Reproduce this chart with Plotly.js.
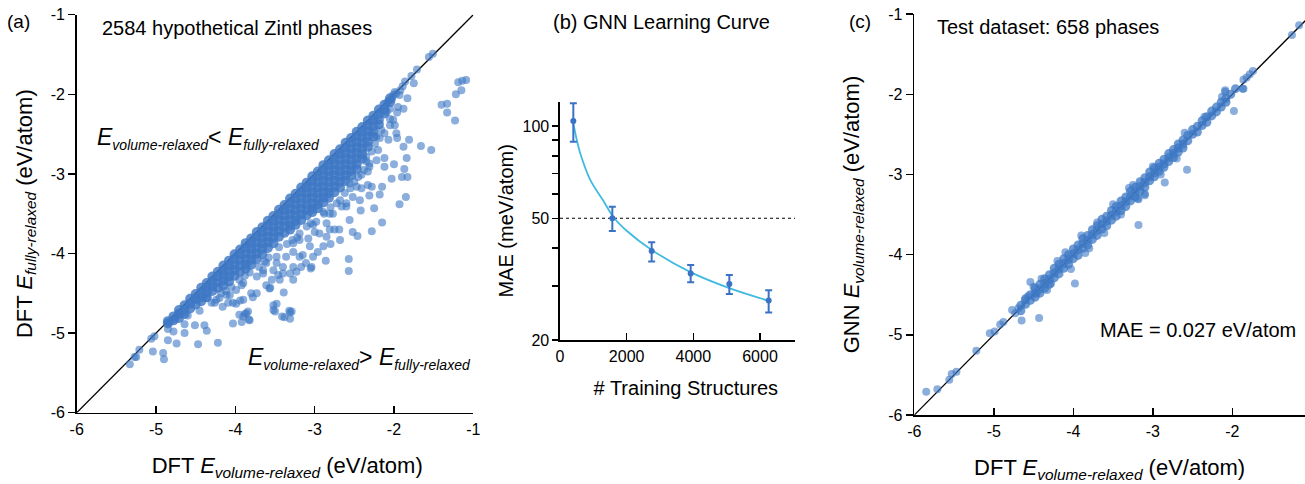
<!DOCTYPE html>
<html><head><meta charset="utf-8">
<script src="https://cdn.plot.ly/plotly-3.0.1.min.js"></script>
<style>html,body{margin:0;padding:0;background:#fff}#chart{width:1305px;height:484px}</style>
</head><body><div id="chart"></div>
<script>
// ---------- Panel (a): DFT E_fully-relaxed vs DFT E_volume-relaxed ----------
// dense band: column x positions and the y values of points in each column
const aBandColX = [-4.85,-4.78,-4.71,-4.64,-4.57,-4.50,-4.43,-4.36,-4.29,-4.22,-4.15,-4.08,-4.01,-3.94,-3.87,-3.80,-3.73,-3.66,-3.59,-3.52,-3.45,-3.38,-3.31,-3.24,-3.17,-3.10,-3.03,-2.96,-2.89,-2.82,-2.75,-2.68,-2.61,-2.54,-2.47,-2.40,-2.33,-2.26,-2.19,-2.12,-2.05];
const aBandColY = [
 [-4.85,-4.88],[-4.79,-4.84],[-4.71,-4.76,-4.81],[-4.65,-4.71,-4.76],[-4.57,-4.63,-4.69],[-4.51,-4.57,-4.64],
 [-4.43,-4.49,-4.55,-4.60],[-4.37,-4.43,-4.49,-4.55],[-4.29,-4.35,-4.41,-4.47],[-4.23,-4.29,-4.36,-4.43],
 [-4.15,-4.21,-4.27,-4.34,-4.40],[-4.09,-4.15,-4.22,-4.29,-4.35],[-4.01,-4.07,-4.14,-4.21,-4.28],[-3.95,-4.01,-4.08,-4.15,-4.23],
 [-3.87,-3.93,-4.00,-4.07,-4.14,-4.19],[-3.81,-3.87,-3.94,-4.01,-4.08,-4.14],[-3.73,-3.79,-3.86,-3.93,-4.00,-4.07],
 [-3.67,-3.73,-3.80,-3.87,-3.94,-4.01],[-3.59,-3.65,-3.72,-3.79,-3.86,-3.93],[-3.53,-3.59,-3.66,-3.73,-3.80,-3.87],
 [-3.45,-3.51,-3.58,-3.65,-3.72,-3.79],[-3.39,-3.45,-3.52,-3.59,-3.66,-3.74],
 [-3.31,-3.37,-3.44,-3.51,-3.58,-3.65,-3.70],[-3.25,-3.31,-3.38,-3.45,-3.52,-3.59,-3.64],
 [-3.17,-3.23,-3.30,-3.37,-3.44,-3.51,-3.58],[-3.11,-3.17,-3.24,-3.31,-3.38,-3.45,-3.52],
 [-3.03,-3.09,-3.16,-3.23,-3.30,-3.37,-3.44,-3.48],[-2.97,-3.03,-3.10,-3.17,-3.24,-3.31,-3.38,-3.43],
 [-2.89,-2.95,-3.02,-3.09,-3.16,-3.23,-3.30,-3.36],[-2.83,-2.89,-2.96,-3.03,-3.10,-3.17,-3.24,-3.30],
 [-2.75,-2.81,-2.88,-2.95,-3.02,-3.09,-3.16,-3.23],[-2.69,-2.75,-2.82,-2.89,-2.96,-3.03,-3.10,-3.17],
 [-2.61,-2.67,-2.74,-2.81,-2.88,-2.95,-3.02,-3.09],[-2.55,-2.61,-2.68,-2.75,-2.82,-2.89,-2.96,-3.02],
 [-2.47,-2.53,-2.60,-2.67,-2.74,-2.81,-2.88,-2.94],[-2.41,-2.47,-2.54,-2.61,-2.68,-2.75,-2.81],
 [-2.33,-2.39,-2.46,-2.53,-2.60,-2.66],[-2.27,-2.33,-2.40,-2.47,-2.53],[-2.19,-2.25,-2.32,-2.38],
 [-2.13,-2.19,-2.24],[-2.05,-2.10]
];
// points just below the dense band [x, y]
const aFringe = [
 [-4.60,-4.78],[-4.45,-4.72],[-4.30,-4.62],[-4.18,-4.50],[-4.05,-4.42],[-3.95,-4.33],[-3.82,-4.24],[-3.70,-4.17],
 [-3.58,-4.05],[-3.45,-3.92],[-3.35,-3.88],[-3.22,-3.80],[-3.10,-3.66],[-2.98,-3.60],[-2.88,-3.50],[-2.72,-3.37],
 [-2.62,-3.24],[-2.50,-3.10],[-2.38,-2.95],[-2.28,-2.72],[-2.18,-2.55],[-4.12,-4.47],[-3.88,-4.28],[-3.63,-4.10],
 [-3.28,-3.83],[-3.05,-3.62],[-2.80,-3.42],[-2.55,-3.18],[-2.35,-2.84],[-2.24,-2.62]
];
// scattered points [x, y]
const aScatter = [
 [-5.33,-5.39],[-5.27,-5.30],[-5.25,-5.30],[-5.21,-5.21],[-5.06,-5.07],[-5.02,-5.04],[-5.04,-5.23],[-4.91,-5.25],[-4.90,-5.33],
 [-4.85,-5.09],[-4.85,-4.95],[-4.78,-4.98],[-4.83,-4.86],[-4.76,-4.83],[-4.72,-4.75],[-4.74,-5.13],[-4.64,-5.00],[-4.64,-4.89],
 [-4.51,-4.90],[-4.47,-5.14],[-4.39,-4.90],[-4.36,-4.97],[-4.22,-5.12],[-4.03,-4.88],[-3.92,-4.86],[-3.95,-4.77],[-3.88,-4.76],
 [-3.83,-4.83],[-3.90,-4.79],[-3.84,-4.73],[-3.52,-4.65],[-3.50,-4.73],[-3.38,-4.80],[-3.31,-4.74],[-3.31,-4.82],[-3.29,-4.73],
 [-3.48,-4.63],[-3.52,-4.71],[-3.32,-4.72],[-3.86,-4.75],[-3.82,-4.84],[-3.99,-4.63],[-4.07,-4.52],[-4.24,-4.58],[-4.26,-4.62],
 [-4.20,-4.56],[-4.16,-4.67],[-4.09,-4.62],[-4.03,-4.62],[-3.94,-4.59],[-3.90,-4.58],[-4.49,-4.58],[-4.36,-4.56],[-4.11,-4.52],
 [-3.99,-4.46],[-3.90,-4.37],[-3.92,-4.40],[-3.73,-4.29],[-3.80,-4.50],[-3.73,-4.50],[-3.78,-4.55],[-3.65,-4.21],[-3.65,-4.25],
 [-3.61,-4.40],[-3.57,-4.44],[-3.54,-4.33],[-3.56,-4.43],[-3.44,-4.33],[-3.39,-4.49],[-3.41,-4.79],[-3.46,-4.27],[-3.40,-4.25],
 [-3.31,-4.25],[-3.27,-4.33],[-3.23,-4.23],[-3.17,-4.17],[-3.11,-4.12],[-3.04,-4.17],[-3.05,-4.19],[-2.86,-4.09],[-3.48,-4.12],
 [-3.61,-4.12],[-3.52,-4.21],[-3.36,-4.04],[-3.48,-4.04],[-3.27,-3.98],[-3.40,-4.17],[-3.27,-4.17],[-3.19,-4.04],[-3.02,-4.04],
 [-3.15,-4.02],[-3.06,-3.91],[-3.08,-3.81],[-3.19,-3.83],[-2.96,-3.98],[-2.89,-3.91],[-2.68,-3.83],[-3.00,-3.73],[-2.85,-3.79],
 [-2.75,-3.70],[-2.81,-3.70],[-2.69,-3.70],[-2.80,-3.88],[-2.57,-4.07],[-2.57,-4.22],[-3.27,-3.87],[-3.19,-3.75],[-2.94,-3.75],
 [-3.02,-3.64],[-2.85,-3.62],[-2.56,-3.58],[-2.77,-3.50],[-2.89,-3.48],[-2.46,-3.78],[-2.52,-3.73],[-2.28,-3.72],[-2.15,-3.61],
 [-2.42,-3.46],[-2.25,-3.43],[-2.68,-3.33],[-2.60,-3.41],[-2.52,-3.29],[-2.43,-3.33],[-2.41,-3.18],[-2.33,-3.14],[-2.45,-3.04],
 [-2.31,-2.91],[-2.22,-2.83],[-2.20,-2.70],[-2.07,-2.57],[-2.12,-2.49],[-2.05,-2.39],[-1.97,-2.49],[-2.01,-2.32],[-2.60,-3.37],
 [-2.66,-3.41],[-2.81,-3.50],[-2.56,-3.12],[-2.47,-3.16],[-2.41,-3.01],[-2.35,-2.78],[-2.31,-2.87],[-2.22,-2.53],[-2.16,-2.45],
 [-2.09,-2.22],[-2.05,-2.18],[-1.95,-2.16],[-2.03,-2.07],[-2.12,-2.91],[-2.00,-2.88],[-1.87,-2.94],[-1.90,-3.04],[-1.83,-3.04],
 [-2.03,-3.06],[-2.15,-3.16],[-2.28,-3.16],[-2.31,-3.27],[-2.18,-3.26],[-1.85,-3.29],[-1.93,-3.38],[-1.84,-2.80],[-1.81,-2.57],
 [-1.88,-2.66],[-1.66,-2.65],[-1.53,-2.70],[-2.12,-2.80],[-2.33,-2.97],[-1.96,-2.55],[-1.99,-2.39],[-2.05,-2.31],[-1.96,-2.23],
 [-1.88,-2.18],[-2.09,-2.11],[-1.83,-2.05],[-1.93,-2.01],[-2.01,-2.01],[-1.99,-1.97],[-1.86,-1.84],[-1.75,-1.86],[-1.78,-1.77],
 [-1.71,-1.69],[-1.56,-1.53],[-1.51,-1.49],[-1.09,-1.82],[-1.14,-1.83],[-1.19,-1.85],[-1.15,-1.95],[-1.22,-2.00],[-1.33,-2.12],
 [-1.40,-2.13],[-1.33,-2.23],[-1.23,-2.33],[-2.07,-2.08],[-2.02,-2.04],[-1.97,-1.99],[-1.92,-1.95],[-1.89,-1.90]
];

// ---------- Panel (b): GNN learning curve ----------
const bTrainN   = [400, 1570, 2750, 3920, 5080, 6260];
const bMAE      = [103.9, 50.0, 39.1, 33.0, 30.5, 26.9];
const bErrPlus  = [14.8, 4.5, 2.6, 2.2, 2.1, 2.2];
const bErrMinus = [15.0, 4.6, 3.0, 2.1, 2.2, 2.3];
const bFitN     = [400, 500, 600, 900, 1300, 1600, 2000, 2750, 3900, 5100, 6250];
const bFitMAE   = [102, 90.5, 82, 67, 57, 50.5, 45.5, 39.4, 33.4, 29.5, 26.9];
const bTarget   = [50, 50];
const bTargetN  = [0, 7050];
const bTickVals = [20, 50, 100];
const bMinorVals = [30, 40, 60, 70, 80, 90];
const bXTicks   = [0, 2000, 4000, 6000];

// ---------- Panel (c): GNN vs DFT E_volume-relaxed ----------
const cBandColX = [-4.66,-4.60,-4.54,-4.48,-4.42,-4.36,-4.30,-4.24,-4.18,-4.12,-4.06,-4.00,-3.94,-3.88,-3.82,-3.76,-3.70,-3.64,-3.58,-3.52,-3.46,-3.40,-3.34,-3.28,-3.22,-3.16,-3.10,-3.04,-2.98,-2.92,-2.86,-2.80,-2.74,-2.68,-2.62,-2.56,-2.50,-2.44,-2.38,-2.32,-2.26,-2.20,-2.14,-2.08,-2.02,-1.96];
const cBandColY = [
 [-4.63,-4.70],[-4.55,-4.62],[-4.50,-4.57],[-4.42,-4.48,-4.53],[-4.37,-4.43,-4.48],[-4.30,-4.36,-4.42],
 [-4.25,-4.31,-4.37],[-4.17,-4.23,-4.29],[-4.12,-4.18,-4.24],[-4.05,-4.11,-4.17],[-4.00,-4.06,-4.12],
 [-3.93,-3.99,-4.05],[-3.88,-3.94,-4.01],[-3.80,-3.86,-3.92],[-3.76,-3.82,-3.88],[-3.69,-3.75,-3.81],
 [-3.64,-3.70,-3.76],[-3.56,-3.62,-3.68],[-3.52,-3.58,-3.64],[-3.45,-3.51,-3.57],[-3.40,-3.46,-3.52],
 [-3.33,-3.39,-3.45],[-3.28,-3.34,-3.40],[-3.21,-3.27,-3.33],[-3.16,-3.22,-3.28],[-3.09,-3.15,-3.21],
 [-3.04,-3.10,-3.16],[-2.97,-3.03,-3.08],[-2.92,-2.98,-3.03],[-2.86,-2.91,-2.96],[-2.81,-2.87,-2.91],
 [-2.74,-2.79,-2.84],[-2.69,-2.74,-2.79],[-2.62,-2.67,-2.72],[-2.57,-2.62,-2.67],[-2.51,-2.58],
 [-2.44,-2.50],[-2.40,-2.47],[-2.33,-2.39],[-2.28,-2.35],[-2.21,-2.27],[-2.16,-2.22],[-2.10,-2.16],
 [-2.05,-2.10],[-2.00],[-1.93]
];
const cScatter = [
 [-5.85,-5.71],[-5.71,-5.68],[-5.56,-5.56],[-5.53,-5.49],[-5.47,-5.46],[-5.22,-5.20],[-5.05,-4.98],[-4.99,-4.96],
 [-4.92,-4.87],[-4.88,-4.84],[-4.77,-4.69],[-4.73,-4.73],[-4.65,-4.82],[-4.69,-4.67],[-4.61,-4.57],[-4.57,-4.52],
 [-4.54,-4.34],[-4.50,-4.40],[-4.46,-4.48],[-4.43,-4.79],[-4.33,-4.44],[-3.98,-4.36],[-4.03,-4.18],[-3.85,-3.98],
 [-3.61,-3.73],[-3.18,-3.63],[-3.10,-3.26],[-3.19,-3.30],[-2.57,-2.94],[-2.85,-3.10],[-3.10,-3.24],[-3.18,-3.31],
 [-1.98,-2.21],[-1.87,-1.93],[-1.74,-1.71],[-1.78,-1.75],[-1.82,-1.79],[-1.86,-1.82],[-1.16,-1.14],[-1.25,-1.26],
 [-2.09,-1.97],[-2.13,-2.03],[-3.90,-3.76],[-3.50,-3.37],[-3.30,-3.17],[-2.60,-2.48],[-4.10,-3.97],[-3.25,-3.13],
 [-1.86,-1.93],[-2.09,-1.95],[-4.40,-4.30],[-4.28,-4.36],[-3.70,-3.60],[-3.40,-3.50],[-3.00,-2.90],[-2.70,-2.80],
 [-2.35,-2.28],[-4.20,-4.08],[-3.80,-3.92],[-2.90,-3.00]
];
const eTickVals = [-6, -5, -4, -3, -2, -1];
const eTickText = ['-6', '-5', '-4', '-3', '-2', '-1'];

// ---------- build ----------
function flatCols(colX, colY) {
  const xs = [], ys = [];
  colX.forEach((x, i) => colY[i].forEach(y => { xs.push(x); ys.push(y); }));
  return [xs, ys];
}
const [aBX, aBY] = flatCols(aBandColX, aBandColY);
const [cBX, cBY] = flatCols(cBandColX, cBandColY);
const aPts = aFringe.concat(aScatter);

const FONT = 'Liberation Sans, Arial, Helvetica, sans-serif';
const BLUE = 'rgb(62,120,196)';
const dot = (s, o) => ({color: BLUE, size: s, opacity: o, line: {width: 0}});
const diag = [-6, -1];

const traces = [
  {x: diag, y: diag, mode: 'lines', line: {color: '#000', width: 1.3}, xaxis: 'x', yaxis: 'y', hoverinfo: 'skip'},
  {x: aBX, y: aBY, mode: 'markers', marker: dot(10, 0.82), xaxis: 'x', yaxis: 'y'},
  {x: aPts.map(p => p[0]), y: aPts.map(p => p[1]), mode: 'markers', marker: dot(8, 0.6), xaxis: 'x', yaxis: 'y'},
  {x: bTargetN, y: bTarget, mode: 'lines', line: {color: '#000', width: 1.2, dash: 'dot'}, xaxis: 'x2', yaxis: 'y2'},
  {x: bFitN, y: bFitMAE, mode: 'lines', line: {color: 'rgb(64,186,224)', width: 1.8, shape: 'spline', smoothing: 1}, xaxis: 'x2', yaxis: 'y2'},
  {x: bTrainN, y: bMAE, mode: 'markers', marker: {color: 'rgb(58,114,196)', size: 6},
   error_y: {type: 'data', symmetric: false, array: bErrPlus, arrayminus: bErrMinus, color: 'rgb(58,114,196)', thickness: 2, width: 3.5},
   xaxis: 'x2', yaxis: 'y2'},
  {x: diag, y: diag, mode: 'lines', line: {color: '#000', width: 1.3}, xaxis: 'x3', yaxis: 'y3', hoverinfo: 'skip'},
  {x: cBX, y: cBY, mode: 'markers', marker: dot(9, 0.75), xaxis: 'x3', yaxis: 'y3'},
  {x: cScatter.map(p => p[0]), y: cScatter.map(p => p[1]), mode: 'markers', marker: dot(8, 0.6), xaxis: 'x3', yaxis: 'y3'}
];

const W = 1305, H = 484;
const px = v => v / W, py = v => 1 - v / H;
const baseAxis = {showline: true, linecolor: '#000', linewidth: 1.6, showgrid: false, zeroline: false,
  tickcolor: '#000', tickwidth: 1.5, tickfont: {size: 16, color: '#000', family: FONT}};
const xAx = o => Object.assign({}, baseAxis, {ticks: 'inside', ticklen: 7, ticklabelstandoff: 1}, o);
const yAx = o => Object.assign({}, baseAxis, {ticks: 'outside', ticklen: 7}, o);
const titleFont = {size: 22, color: '#000', family: FONT};
const titleFontB = {size: 20, color: '#000', family: FONT};
const SUB = t => '<sub><span style="font-size:14px"><i>' + t + '</i></span></sub>';

const layout = {
  width: W, height: H, margin: {l: 0, r: 0, t: 0, b: 0}, showlegend: false,
  paper_bgcolor: '#fff', plot_bgcolor: '#fff', font: {family: FONT, color: '#000'},
  xaxis: xAx({domain: [px(76.7), px(473.3)], range: [-6, -1], tickvals: eTickVals, ticktext: eTickText, anchor: 'y',
    title: {text: '&nbsp;&nbsp;&nbsp;&nbsp;DFT <i>E</i><sub><i>volume-relaxed</i></sub> (eV/atom)', font: titleFont, standoff: 21}}),
  yaxis: yAx({domain: [py(412.7), py(14.7)], range: [-6, -1], tickvals: eTickVals, ticktext: eTickText, anchor: 'x',
    title: {text: 'DFT <i>E</i><sub><i>fully-relaxed</i></sub> (eV/atom)', font: titleFont, standoff: 12}}),
  xaxis2: xAx({domain: [px(560), px(795)], range: [0, 7050], tickvals: bXTicks, ticktext: bXTicks.map(String), anchor: 'y2',
    title: {text: '&nbsp;&nbsp;&nbsp;# Training Structures', font: titleFontB, standoff: 17}}),
  yaxis2: yAx({type: 'log', domain: [py(340), py(101.7)], range: [Math.log10(20), Math.log10(120.2)],
    tickvals: bTickVals, ticktext: bTickVals.map(String), ticklen: 6, anchor: 'x2',
    minor: {tickmode: 'array', tickvals: bMinorVals, ticks: 'outside', ticklen: 6, tickcolor: '#000', tickwidth: 1.5},
    title: {text: 'MAE (meV/atom)', font: titleFontB, standoff: 3}}),
  xaxis3: xAx({domain: [px(914.3), 1], range: [-6, -1.086], tickvals: eTickVals, ticktext: eTickText, anchor: 'y3',
    title: {text: 'DFT <i>E</i><sub><i>volume-relaxed</i></sub> (eV/atom)', font: titleFont, standoff: 21}}),
  yaxis3: yAx({domain: [py(415), py(14.1)], range: [-6, -1], tickvals: eTickVals, ticktext: eTickText, anchor: 'x3',
    title: {text: 'GNN <i>E</i><sub><i>volume-relaxed</i></sub> (eV/atom)', font: titleFont, standoff: 22}}),
  annotations: [
    {text: '(a)', x: px(18), y: py(21), xref: 'paper', yref: 'paper', showarrow: false, font: {size: 19}, xanchor: 'center', yanchor: 'middle'},
    {text: '2584 hypothetical Zintl phases', x: px(100), y: py(28), xref: 'paper', yref: 'paper', showarrow: false, font: {size: 20}, xanchor: 'left', yanchor: 'middle'},
    {text: '<i>E</i>' + SUB('volume-relaxed') + '< <i>E</i>' + SUB('fully-relaxed'), x: px(95), y: py(138), xref: 'paper', yref: 'paper', showarrow: false, font: {size: 23}, xanchor: 'left', yanchor: 'middle'},
    {text: '<i>E</i>' + SUB('volume-relaxed') + '> <i>E</i>' + SUB('fully-relaxed'), x: px(246), y: py(358), xref: 'paper', yref: 'paper', showarrow: false, font: {size: 23}, xanchor: 'left', yanchor: 'middle'},
    {text: '(b) GNN Learning Curve', x: px(661), y: py(22), xref: 'paper', yref: 'paper', showarrow: false, font: {size: 20}, xanchor: 'center', yanchor: 'middle'},
    {text: '(c)', x: px(859.5), y: py(22), xref: 'paper', yref: 'paper', showarrow: false, font: {size: 19}, xanchor: 'center', yanchor: 'middle'},
    {text: 'Test dataset: 658 phases', x: px(935), y: py(27), xref: 'paper', yref: 'paper', showarrow: false, font: {size: 20}, xanchor: 'left', yanchor: 'middle'},
    {text: 'MAE = 0.027 eV/atom', x: px(1098), y: py(330), xref: 'paper', yref: 'paper', showarrow: false, font: {size: 20}, xanchor: 'left', yanchor: 'middle'},
    {text: '-1', x: px(1311.8), y: py(428), xref: 'paper', yref: 'paper', showarrow: false, font: {size: 16}, xanchor: 'center', yanchor: 'middle'}
  ]
};

Plotly.newPlot('chart', traces, layout, {staticPlot: true, displayModeBar: false});
</script></body></html>
